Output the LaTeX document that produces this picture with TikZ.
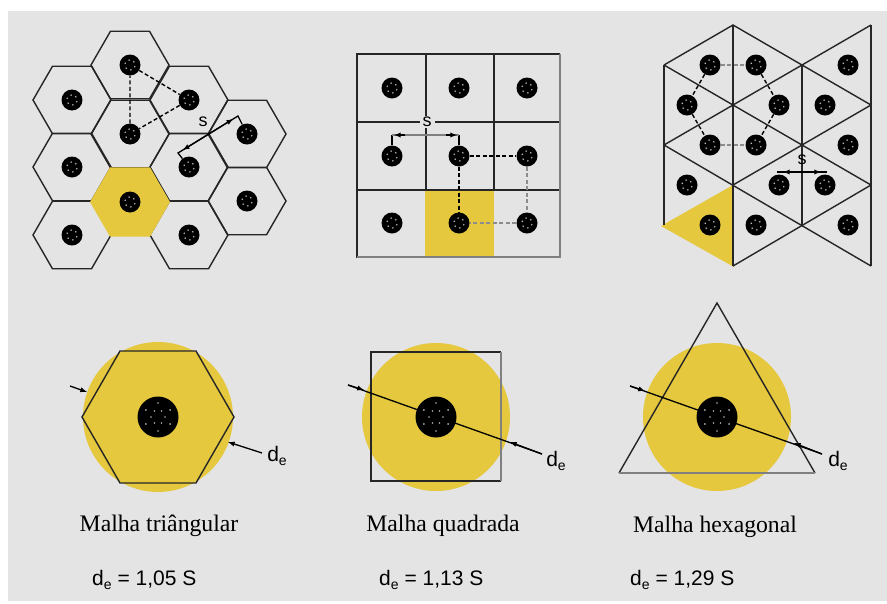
\documentclass[tikz,border=0pt]{standalone}
\usepackage{fontspec}
\setmainfont{Liberation Serif}
\setsansfont{Liberation Sans}
\usepackage{tikz}
\usetikzlibrary{calc,arrows}
\definecolor{panel}{HTML}{E4E4E4}
\definecolor{ouro}{HTML}{E5C83E}
\newcommand{\specks}[3]{\foreach \a in {0,60,...,300}{\fill[gray!60] (path picture bounding box.center) ++(\a+#3:#1) circle (#2);}}
\newcommand{\desub}{d\raisebox{-3.5pt}{\fontsize{14}{14}\selectfont e}}
\begin{document}
\begin{tikzpicture}[x=1pt, y=-1pt, >=latex,
 wall/.style={draw=black!85, line width=1.4pt},
 faint/.style={draw=black!50, line width=2pt},
 dsh/.style={line width=1.4pt, dash pattern=on 4pt off 2.5pt},
 dshfaint/.style={dsh, draw=black!45, line width=2pt},
 tick/.style={line width=1.3pt},
 rod/.style={circle, fill=black, inner sep=0pt, minimum size=21pt, path picture={\specks{5}{.9}{20}}},
 core/.style={circle, fill=black, inner sep=0pt, minimum size=41pt, path picture={\specks{7}{.9}{0}\specks{14}{.9}{30}}},
 slbl/.style={font=\sffamily\fontsize{18}{18}\selectfont, inner sep=0pt},
 dlbl/.style={font=\sffamily\fontsize{21}{21}\selectfont, inner sep=0pt},
 mesh/.style={font=\rmfamily\fontsize{23.7}{23.7}\selectfont, inner sep=0pt},
 eqn/.style={font=\sffamily\fontsize{21}{21}\selectfont, inner sep=0pt, anchor=west}]
\useasboundingbox (0,0) rectangle (887,603);
\fill[white] (0,0) rectangle (887,603);
\fill[panel] (8,11) rectangle (887,601);

% triangular layout
\foreach \cx/\cy in {130/65,72/100,189/100,130/134,72/167,189/167,247/134,247/201,72/235,189/235}{\draw[wall, shift={(\cx,\cy)}] (0:39) -- (60:39) -- (120:39) -- (180:39) -- (240:39) -- (300:39) -- cycle;}
\fill[ouro, shift={(130,202)}] (0:40) -- (60:40) -- (120:40) -- (180:40) -- (240:40) -- (300:40) -- cycle;
\foreach \n/\cx/\cy in {a/130/65,b/72/100,c/189/100,d/130/134,e/72/167,f/189/167,g/247/134,h/247/201,i/72/235,j/189/235,k/130/202}{\node[rod] (t\n) at (\cx,\cy) {};}
\draw[dsh] (ta) -- (tc) -- (td) -- (ta);
\coordinate (tsa) at (178,153);
\coordinate (tsb) at (238,116);
\draw[tick] (tf) -- (tsa) -- (tsb) -- (tg);
\draw[->, tick] ($(tsa)!.5!(tsb)$) -- ($(tsa)!.08!(tsb)$);
\draw[->, tick] ($(tsa)!.5!(tsb)$) -- ($(tsa)!.92!(tsb)$);
\node[slbl] (ts) at (203,122) {s};

% square layout
\fill[ouro] (425,190) rectangle (494,258);
\foreach \x in {426,494}{\draw[wall] (\x,54) -- (\x,190);}
\foreach \y in {122,190}{\draw[wall] (357,\y) -- (560,\y);}
\draw[wall] (560,257) -- (357,257) -- (357,54) -- (560,54);
\draw[faint] (560,54) -- (560,257) -- (357,257);
\foreach \n/\cx/\cy in {a/392/88,b/459/88,c/527/88,d/392/156,e/459/156,f/527/156,g/392/223,h/459/223,i/527/223}{\node[rod] (q\n) at (\cx,\cy) {};}
\draw[dsh] (qe) -- (qf);
\draw[dsh] (qe) -- (qh);
\draw[dshfaint] (qf) -- (qi) -- (qh);
\coordinate (qsa) at (392,135);
\coordinate (qsb) at (459,135);
\draw[tick] (qd) -- (qsa);
\draw[tick] (qe) -- (qsb);
\draw[faint] (qsa) -- (qsb);
\draw[->, tick] ($(qsa)!.2!(qsb)$) -- ($(qsa)!.03!(qsb)$);
\draw[->, tick] ($(qsa)!.8!(qsb)$) -- ($(qsa)!.97!(qsb)$);
\node[slbl, fill=panel, inner xsep=3pt, inner ysep=1pt] (qs) at (427,122) {s};

% hexagonal layout
\fill[ouro] (661,226) -- (733,185) -- (734,267) -- cycle;
\foreach \x in {733,871}{\draw[wall] (\x,25) -- (\x,266);}
\foreach \x in {664,802}{\draw[wall] (\x,65) -- (\x,225);}
\draw[wall] (664,65) -- (733,25) -- (871,105);
\draw[wall] (664,65) -- (802,145) -- (871,185);
\draw[wall] (664,145) -- (733,105) -- (871,25);
\draw[wall] (664,145) -- (871,266);
\draw[wall] (733,185) -- (802,145) -- (871,105);
\draw[wall] (733,266) -- (871,185);
\foreach \n/\cx/\cy in {a/710/65,b/756/65,c/848/65,d/687/105,e/779/105,f/825/105,g/710/145,h/756/145,i/848/145,j/687/185,k/779/185,l/825/185,m/710/225,n/756/225,o/848/225}{\node[rod] (h\n) at (\cx,\cy) {};}
\draw[dsh] (hb) -- (he) -- (hh);
\draw[dsh] (ha) -- (hd) -- (hg);
\draw[dshfaint] (ha) -- (hb);
\draw[dshfaint] (hg) -- (hh);
\coordinate (hsa) at (777,172);
\coordinate (hsb) at (827,172);
\draw[tick] (hsa) -- (hsb);
\draw[->, tick] (802,172) -- (783,172);
\draw[->, tick] (802,172) -- (821,172);
\node[slbl] (hs) at (802,160) {s};

% unit cells
\fill[ouro] (158,417) circle (75);
\draw[wall] (234,417) -- (196,351) -- (120,351) -- (82,417) -- (120,483) -- (196,483) -- cycle;
\node[core] (tc0) at (158,417) {};
\coordinate (tla) at (70,386);
\coordinate (tlb) at (87,392);
\coordinate (tra) at (262,453);
\coordinate (trb) at (228,442);
\draw[->, tick] (tla) -- (tlb);
\draw[->, tick] (tra) -- (trb);
\node[dlbl] (tde) at (277,456) {\desub};
\node[mesh] (tcap) at (159,526) {Malha triângular};
\node[eqn] (teq) at (92,580) {\desub{} = 1,05 S};

\fill[ouro] (436,417) circle (74);
\draw[wall] (501,481) -- (371,481) -- (371,352) -- (501,352);
\draw[faint] (501,352) -- (501,481);
\coordinate (qla) at (348,385);
\coordinate (qlb) at (364,390);
\coordinate (qra) at (542,454);
\coordinate (qrb) at (510,442);
\draw[tick] (qla) -- (qra);
\draw[->, tick] (qla) -- (qlb);
\draw[->, tick] (qra) -- (qrb);
\node[core] (qc0) at (436,417) {};
\node[dlbl] (qde) at (556,461) {\desub};
\node[mesh] (qcap) at (443,526) {Malha quadrada};
\node[eqn] (qeq) at (379,580) {\desub{} = 1,13 S};

\fill[ouro] (717,417) circle (74);
\draw[wall] (815,473) -- (717,303) -- (619,473);
\draw[faint] (619,473) -- (815,473);
\coordinate (hla) at (630,386);
\coordinate (hlb) at (645,391);
\coordinate (hra) at (822,454);
\coordinate (hrb) at (794,443);
\draw[tick] (hla) -- (hra);
\draw[->, tick] (hla) -- (hlb);
\draw[->, tick] (hra) -- (hrb);
\node[core] (hc0) at (717,417) {};
\node[dlbl] (hde) at (838,461) {\desub};
\node[mesh] (hcap) at (715,527) {Malha hexagonal};
\node[eqn] (heq) at (630,580) {\desub{} = 1,29 S};
\end{tikzpicture}
\end{document}
